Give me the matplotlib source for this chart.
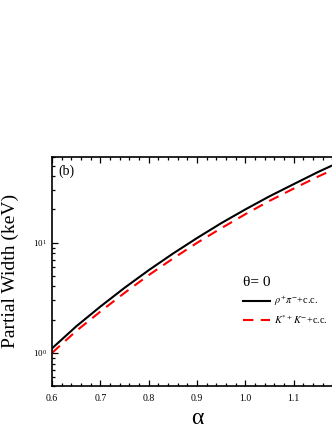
import matplotlib
matplotlib.use("Agg")
import matplotlib.pyplot as plt
from matplotlib.ticker import MultipleLocator, LogLocator, NullFormatter

alpha = [0.60, 0.65, 0.70, 0.75, 0.80, 0.85, 0.90, 0.95, 1.00, 1.05, 1.10, 1.15, 1.20]
rho_pi = [1.10, 1.74, 2.63, 3.89, 5.62, 7.94, 11.0, 15.0, 20.0, 26.3, 33.9, 43.6, 55.0]
kstar_k = [1.00, 1.58, 2.37, 3.50, 5.07, 7.16, 9.95, 13.5, 18.1, 23.9, 30.9, 39.6, 50.0]

xticks = [0.6, 0.7, 0.8, 0.9, 1.0, 1.1, 1.2]
xticklabels = ["0.6", "0.7", "0.8", "0.9", "1.0", "1.1", "1.2"]

serif = ["Liberation Serif", "DejaVu Serif"]
plt.rcParams["font.family"] = serif
plt.rcParams["mathtext.fontset"] = "stix"

fig = plt.figure(figsize=(3.32, 4.30), dpi=100)
ax = fig.add_axes([0.157, 0.1023, 0.873, 0.533])

ax.plot(alpha, rho_pi, color="black", lw=1.5, label=r"$\rho^{+}\pi^{-}$+c.c.")
ax.plot(alpha, kstar_k, color="red", lw=1.5, dashes=(5, 3.5), label=r"$K^{*+}K^{-}$+c.c.")

ax.set_yscale("log")
ax.set_xlim(0.6, 1.2)
ax.set_ylim(0.5, 60)

ax.set_xticks(xticks)
ax.set_xticklabels(xticklabels)
ax.xaxis.set_minor_locator(MultipleLocator(0.02))
ax.yaxis.set_major_locator(LogLocator(base=10, numticks=10))
ax.yaxis.set_minor_locator(LogLocator(base=10, subs=range(2, 10), numticks=20))
ax.yaxis.set_minor_formatter(NullFormatter())

ax.tick_params(which="both", direction="in", top=True, right=True, labelsize=7, width=0.9)
ax.tick_params(which="major", length=4.5)
ax.tick_params(which="minor", length=2.2)
ax.tick_params(axis="x", pad=6)
for lab in ax.get_yticklabels():
    lab.set_fontsize(6.5)
for s in ax.spines.values():
    s.set_linewidth(1.2)

ax.set_ylabel("Partial Width (keV)", fontsize=14, labelpad=10)
ax.set_xlabel("α", fontsize=17, labelpad=3)

ax.text(0.02, 0.965, "(b)", transform=ax.transAxes, fontsize=10, va="top", ha="left")

leg = ax.legend(loc="upper left", bbox_to_anchor=(0.635, 0.51), frameon=False,
                title="θ= 0", fontsize=7.4, handlelength=2.6, handletextpad=0.35,
                labelspacing=0.45, borderpad=0.2)
leg.get_title().set_fontsize(11)
leg._legend_box.align = "left"

fig.savefig("out.png", dpi=100)
